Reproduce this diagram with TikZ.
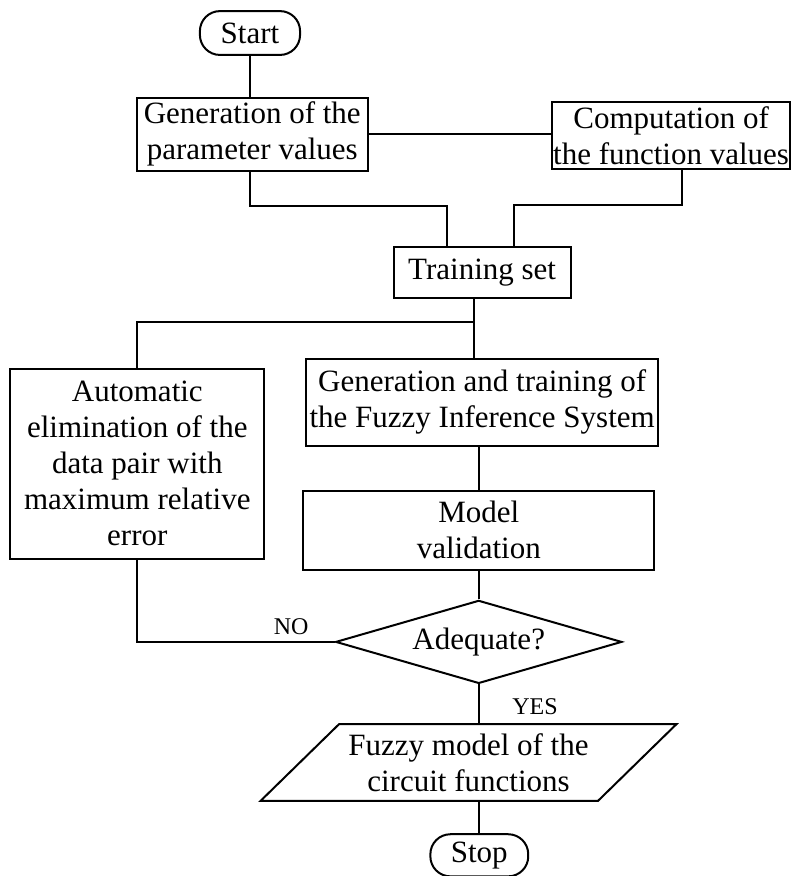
\documentclass[tikz,border=0pt]{standalone}
\usepackage{fontspec}
\setmainfont{Liberation Serif}
\usepackage{tikz}
\usetikzlibrary{calc,shapes.geometric,arrows}
\newcommand{\boxsize}{\fontsize{15.5}{18}\selectfont}
\newcommand{\lblsize}{\fontsize{12}{14}\selectfont}

\begin{document}
\begin{tikzpicture}[line width=1pt,
termnode/.style={rectangle, rounded corners=10pt, draw, inner sep=0pt, font=\boxsize},
procbox/.style={rectangle, draw, align=center, inner sep=0pt, font=\boxsize},
decidenode/.style={diamond, aspect=3.4, draw, inner sep=0pt, font=\boxsize},
outnode/.style={trapezium, trapezium left angle=36.5, trapezium right angle=143.5, trapezium stretches body, draw, align=center, inner sep=0pt, font=\boxsize},
lbl/.style={font=\lblsize}]
\useasboundingbox (-4.393,0.580) rectangle (9.525,-14.814);
%Nodes
\node[termnode, minimum width=1.76cm, minimum height=0.77cm]      (start)                          {Start};
\node[procbox, minimum width=4.06cm, minimum height=1.28cm, xshift=0.04cm, yshift=-0.78cm]      (genpar)  [below of = start]  {Generation of the\\parameter values};
\node[procbox, minimum width=4.18cm, minimum height=1.18cm, xshift=6.36cm, yshift=-0.02cm]      (comp)  [right of = genpar]  {Computation of\\the function values};
\node[procbox, minimum width=3.11cm, minimum height=0.91cm, xshift=4.04cm, yshift=-1.43cm]      (training)  [below of = genpar]  {Training set};
\node[procbox, minimum width=6.19cm, minimum height=1.53cm, yshift=-1.28cm]      (gentrain)  [below of = training]  {Generation and training of\\the Fuzzy Inference System};
\node[procbox, minimum width=4.46cm, minimum height=3.34cm, xshift=-5.06cm, yshift=-1.08cm]      (auto)  [left of = gentrain]  {Automatic\\elimination of the\\data pair with\\maximum relative\\error};
\node[procbox, minimum width=6.17cm, minimum height=1.39cm, xshift=-0.06cm, yshift=-1.25cm]      (model)  [below of = gentrain]  {Model\\validation};
\node[decidenode, minimum width=5.03cm, minimum height=1.46cm, yshift=-0.96cm]      (decide)  [below of = model]  {Adequate?};
\node[outnode, minimum width=7.31cm, minimum height=1.35cm, xshift=-0.18cm, yshift=-1.12cm]      (fuzzy)  [below of = decide]  {Fuzzy model of the\\circuit functions};
\node[termnode, minimum width=1.72cm, minimum height=0.74cm, xshift=0.19cm, yshift=-0.63cm]      (stop)  [below of = fuzzy]  {Stop};

%Lines
\draw (start.south) -- (start.south |- genpar.north);
\draw (genpar.east) -- (genpar.east -| comp.west);
\draw (start |- genpar.south) -- ++(0,-0.6cm) -| ([xshift=-0.61cm]training.north);
\draw ([xshift=0.19cm]comp.south) -- ++(0,-0.62cm) -| ([xshift=0.56cm]training.north);
\draw ([xshift=-0.15cm]training.south) -- ([xshift=-0.15cm]training.south |- gentrain.north);
\draw ([xshift=-0.15cm]training.south) ++(0,-0.4cm) -| (auto.north);
\draw (model.north) -- (model.north |- gentrain.south);
\draw (model.south) -- (decide.north);
\draw (auto.south) |- (decide.west) node[lbl, pos=0.89, above] {NO};
\draw (decide.south) -- (decide.south |- fuzzy.north) node[lbl, pos=0.58, right=13pt] {YES};
\draw (stop.north |- fuzzy.south) -- (stop.north);
\end{tikzpicture}
\end{document}
